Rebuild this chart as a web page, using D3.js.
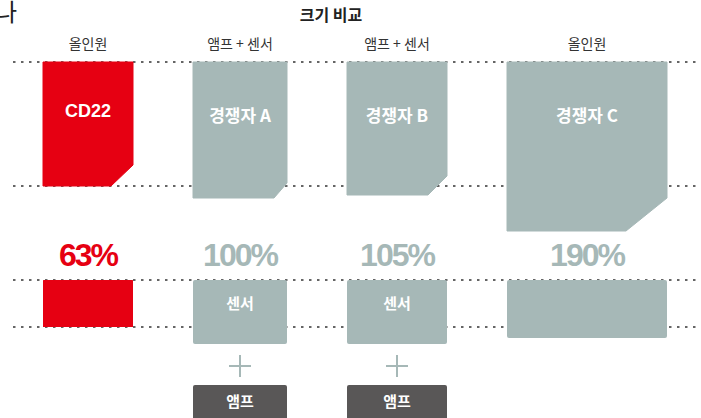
<!DOCTYPE html>
<html><head><meta charset="utf-8">
<script src="https://cdn.jsdelivr.net/npm/d3@7"></script>
<style>
html,body{margin:0;padding:0;background:#fff;}
svg{display:block;font-family:"Liberation Sans","Noto Sans CJK KR",sans-serif;}
</style></head>
<body>
<svg id="chart" width="701" height="418"></svg>
<script>
// ---- data ----
const titleText = "크기 비교";
const categories = ["CD22", "경쟁자 A", "경쟁자 B", "경쟁자 C"];
const types = ["올인원", "앰프 + 센서", "앰프 + 센서", "올인원"];
const sizePercent = [63, 100, 105, 190];
const frontWidth = [90, 94, 100, 160];
const frontHeight = [124, 136, 133, 169];
const sideDepth = [47, 64, 64, 58];
const hasAmp = [false, true, true, false];
const sensorLabel = "센서";
const ampLabel = "앰프";

// ---- style ----
const RED = "#e60012", GREY = "#a6b8b7", DARK = "#595757";
const cutX = [22, 13, 19, 41], cutY = [21, 15, 19, 33];

const svg = d3.select("#chart");
const s = d3.scaleLinear().domain([0, 1]).range([0, 1]); // size scale (units -> px)
const gap = 60, leftX = 43;
const xs = [];
let acc = 0;
frontWidth.forEach((w, i) => { xs.push(leftX + acc + gap * i); acc += s(w); });
const topY = 62, sideTop = 280;

// title
svg.append("text").attr("x", 331).attr("y", 21).attr("text-anchor", "middle")
  .attr("font-size", 16).attr("font-weight", "bold").attr("fill", "#222")
  .attr("font-family", "'Noto Sans CJK KR',sans-serif").text(titleText);
svg.append("text").attr("x", 17).attr("y", 21).attr("text-anchor", "end")
  .attr("font-size", 24).attr("fill", "#222")
  .attr("font-family", "'Noto Sans CJK KR',sans-serif").text("나");

// dotted reference lines (based on CD22 size)
const refY = [topY, topY + s(frontHeight[0]), sideTop, sideTop + s(sideDepth[0])];
svg.selectAll("line.ref").data(refY).join("line").attr("class", "ref")
  .attr("x1", 13).attr("x2", 701).attr("y1", d => d).attr("y2", d => d)
  .attr("stroke", "#333").attr("stroke-width", 1.3).attr("stroke-dasharray", "2.5,5.5");

categories.forEach((c, i) => {
  const x = xs[i], w = s(frontWidth[i]), h = s(frontHeight[i]);
  const col = i === 0 ? RED : GREY;
  const cx = x + w / 2;
  // header
  svg.append("text").attr("x", cx).attr("y", 49).attr("text-anchor", "middle")
    .attr("font-size", 14).attr("fill", "#333")
    .attr("font-family", "'Noto Sans CJK KR',sans-serif").text(types[i]);
  // front shape
  const p = d3.path();
  p.moveTo(x, topY); p.lineTo(x + w, topY); p.lineTo(x + w, topY + h - cutY[i]);
  p.lineTo(x + w - cutX[i], topY + h); p.lineTo(x, topY + h); p.closePath();
  svg.append("path").attr("d", p.toString()).attr("fill", col)
    .attr("stroke", col).attr("stroke-width", 1).attr("stroke-linejoin", "round");
  // label
  svg.append("text").attr("x", cx).attr("y", i === 0 ? 117 : 122).attr("text-anchor", "middle")
    .attr("font-size", i === 0 ? 18 : 17).attr("font-weight", "bold").attr("fill", "#fff")
    .attr("font-family", i === 0 ? "'Liberation Sans',sans-serif" : "'Noto Sans CJK KR','Liberation Sans',sans-serif")
    .text(c);
  // percent
  svg.append("text").attr("x", cx).attr("y", 266).attr("text-anchor", "middle")
    .attr("font-size", 32).attr("font-weight", "bold").attr("letter-spacing", -2)
    .attr("fill", col).text(sizePercent[i] + "%");
  // side box
  svg.append("rect").attr("x", x).attr("y", sideTop).attr("width", w)
    .attr("height", s(sideDepth[i])).attr("rx", i === 0 ? 0.5 : 2).attr("fill", col);
  if (hasAmp[i]) {
    svg.append("text").attr("x", cx).attr("y", 309).attr("text-anchor", "middle")
      .attr("font-size", 15).attr("font-weight", "bold").attr("fill", "#fff")
      .attr("font-family", "'Noto Sans CJK KR',sans-serif").text(sensorLabel);
    // plus
    svg.append("line").attr("x1", cx - 11).attr("x2", cx + 11).attr("y1", 366).attr("y2", 366)
      .attr("stroke", GREY).attr("stroke-width", 2);
    svg.append("line").attr("x1", cx).attr("x2", cx).attr("y1", 355).attr("y2", 377)
      .attr("stroke", GREY).attr("stroke-width", 2);
    svg.append("rect").attr("x", x).attr("y", 385).attr("width", w).attr("height", 45)
      .attr("rx", 2).attr("fill", DARK);
    svg.append("text").attr("x", cx).attr("y", 407).attr("text-anchor", "middle")
      .attr("font-size", 15).attr("font-weight", "bold").attr("fill", "#fff")
      .attr("font-family", "'Noto Sans CJK KR',sans-serif").text(ampLabel);
  }
});
</script>
</body></html>
